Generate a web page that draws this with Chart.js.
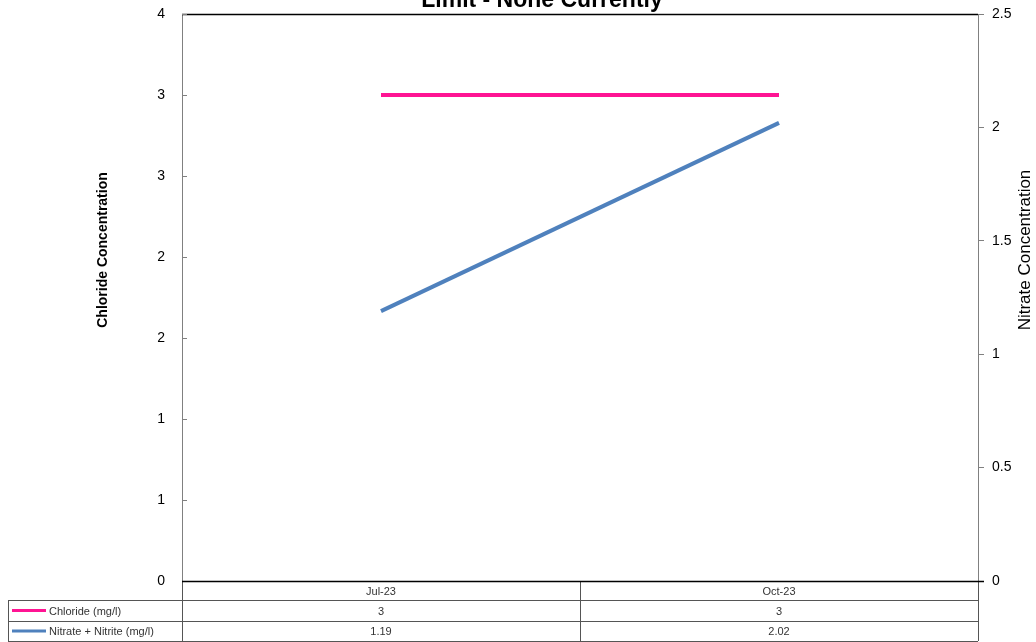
<!DOCTYPE html>
<html>
<head>
<meta charset="utf-8">
<script src="https://cdn.jsdelivr.net/npm/chart.js@4/dist/chart.umd.min.js"></script>
<style>
  html, body { margin: 0; padding: 0; background: #fff; }
  #wrap { width: 1036px; height: 642px; }
</style>
</head>
<body>
<div id="wrap"><canvas id="grafico" width="1036" height="642"></canvas></div>
<script>
// datos
const categorias = ['Jul-23', 'Oct-23'];
const cloruro = [3, 3];
const nitrato = [1.19, 2.02];
const etiquetasTabla = ['Chloride (mg/l)', 'Nitrate + Nitrite (mg/l)'];
const colores = ['rgb(255,20,147)', 'rgb(79,129,189)'];

const tituloGrafico = 'Limit - None Currently';
const tituloIzq = 'Chloride Concentration';
const tituloDer = 'Nitrate Concentration';

// dibuja titulo, titulos de ejes, borde superior y tabla de datos
const extras = {
    id: 'extras',
    afterDraw(chart) {
        const ctx = chart.ctx;
        const area = chart.chartArea;
        const x = chart.scales.x;
        const yIzq = chart.scales.y;
        ctx.save();

        // titulo (cortado arriba como en el original)
        ctx.fillStyle = '#000';
        ctx.font = 'bold 23px "Liberation Sans", Arial, sans-serif';
        ctx.textAlign = 'center';
        ctx.textBaseline = 'alphabetic';
        ctx.fillText(tituloGrafico, 542, 7);

        // titulos de ejes
        ctx.save();
        ctx.translate(103, 250);
        ctx.rotate(-Math.PI / 2);
        ctx.font = 'bold 14px "Liberation Sans", Arial, sans-serif';
        ctx.textBaseline = 'middle';
        ctx.fillText(tituloIzq, 0, 0);
        ctx.restore();

        ctx.save();
        ctx.translate(1025, 250);
        ctx.rotate(-Math.PI / 2);
        ctx.font = '17px "Liberation Sans", Arial, sans-serif';
        ctx.textBaseline = 'middle';
        ctx.fillText(tituloDer, 0, 0);
        ctx.restore();

        // borde superior del area
        ctx.strokeStyle = '#000';
        ctx.lineWidth = 1.5;
        ctx.beginPath();
        ctx.moveTo(area.left, area.top + 0.5);
        ctx.lineTo(area.right, area.top + 0.5);
        ctx.stroke();

        // marcas hacia dentro en el eje izquierdo
        ctx.strokeStyle = '#808080';
        ctx.lineWidth = 1;
        yIzq.ticks.forEach((t) => {
            const py = Math.round(yIzq.getPixelForValue(t.value)) + 0.5;
            ctx.beginPath();
            ctx.moveTo(area.left, py);
            ctx.lineTo(area.left + 5, py);
            ctx.stroke();
        });

        // tabla de datos
        const filas = [area.bottom, 600, 621, 641];
        const izqTabla = 8;
        const mitad = (x.getPixelForValue(0) + x.getPixelForValue(1)) / 2;
        const columnas = [area.left, mitad, area.right];

        ctx.strokeStyle = '#555';
        ctx.lineWidth = 1;
        for (let i = 1; i < filas.length; i++) {
            ctx.beginPath();
            ctx.moveTo(izqTabla, filas[i] + 0.5);
            ctx.lineTo(area.right, filas[i] + 0.5);
            ctx.stroke();
        }
        ctx.beginPath();
        ctx.moveTo(izqTabla + 0.5, filas[1]);
        ctx.lineTo(izqTabla + 0.5, filas[3]);
        ctx.stroke();
        columnas.forEach((cx) => {
            ctx.beginPath();
            ctx.moveTo(Math.round(cx) + 0.5, filas[0]);
            ctx.lineTo(Math.round(cx) + 0.5, filas[3]);
            ctx.stroke();
        });

        // eje inferior negro
        ctx.strokeStyle = '#000';
        ctx.lineWidth = 1.5;
        ctx.beginPath();
        ctx.moveTo(area.left, area.bottom + 0.5);
        ctx.lineTo(area.right + 6, area.bottom + 0.5);
        ctx.stroke();

        ctx.font = '11px "Liberation Sans", Arial, sans-serif';
        ctx.fillStyle = '#333';
        ctx.textBaseline = 'middle';
        ctx.textAlign = 'center';
        categorias.forEach((c, i) => {
            ctx.fillText(c, x.getPixelForValue(i), (filas[0] + filas[1]) / 2 + 1);
        });

        const series = [cloruro, nitrato];
        series.forEach((serie, f) => {
            const cy = (filas[f + 1] + filas[f + 2]) / 2 + 1;
            ctx.strokeStyle = colores[f];
            ctx.lineWidth = 3;
            ctx.beginPath();
            ctx.moveTo(12, cy - 1);
            ctx.lineTo(46, cy - 1);
            ctx.stroke();
            ctx.textAlign = 'left';
            ctx.fillText(etiquetasTabla[f], 49, cy);
            ctx.textAlign = 'center';
            serie.forEach((v, i) => {
                ctx.fillText(String(v), x.getPixelForValue(i), cy);
            });
        });

        ctx.restore();
    }
};

// ancho fijo y sin relleno extra para que el area quede como en el original
function fijarEje(ancho) {
    return (scale) => {
        scale.width = ancho;
        scale.paddingTop = 0;
        scale.paddingBottom = 0;
    };
}

const graph = document.querySelector('#grafico');

const data = {
    labels: categorias,
    datasets: [
        {
            label: etiquetasTabla[0],
            data: cloruro,
            borderColor: colores[0],
            backgroundColor: colores[0],
            borderWidth: 4,
            pointRadius: 0,
            yAxisID: 'y'
        },
        {
            label: etiquetasTabla[1],
            data: nitrato,
            borderColor: colores[1],
            backgroundColor: colores[1],
            borderWidth: 4,
            pointRadius: 0,
            yAxisID: 'y1'
        }
    ]
};

const config = {
    type: 'line',
    data: data,
    options: {
        responsive: false,
        animation: false,
        layout: { padding: { top: 14, bottom: 61, left: 0, right: 0 } },
        plugins: {
            legend: { display: false },
            tooltip: { enabled: false }
        },
        scales: {
            x: {
                display: false,
                offset: true
            },
            y: {
                position: 'left',
                min: 0,
                max: 3.5,
                afterFit: fijarEje(182),
                border: { color: '#808080', width: 1 },
                grid: { drawOnChartArea: false, drawTicks: false },
                ticks: {
                    stepSize: 0.5,
                    padding: 17,
                    color: '#000',
                    font: { family: '"Liberation Sans", Arial, sans-serif', size: 14 },
                    callback: (v) => Math.round(v)
                }
            },
            y1: {
                position: 'right',
                min: 0,
                max: 2.5,
                afterFit: fijarEje(58),
                border: { color: '#808080', width: 1 },
                grid: { drawOnChartArea: false, drawTicks: true, tickLength: 6, color: '#808080' },
                ticks: {
                    stepSize: 0.5,
                    padding: 8,
                    color: '#000',
                    font: { family: '"Liberation Sans", Arial, sans-serif', size: 14 },
                    callback: (v) => String(v)
                }
            }
        }
    },
    plugins: [extras]
};

// Crear el grafico
const chartInstance = new Chart(graph, config);
</script>
</body>
</html>
